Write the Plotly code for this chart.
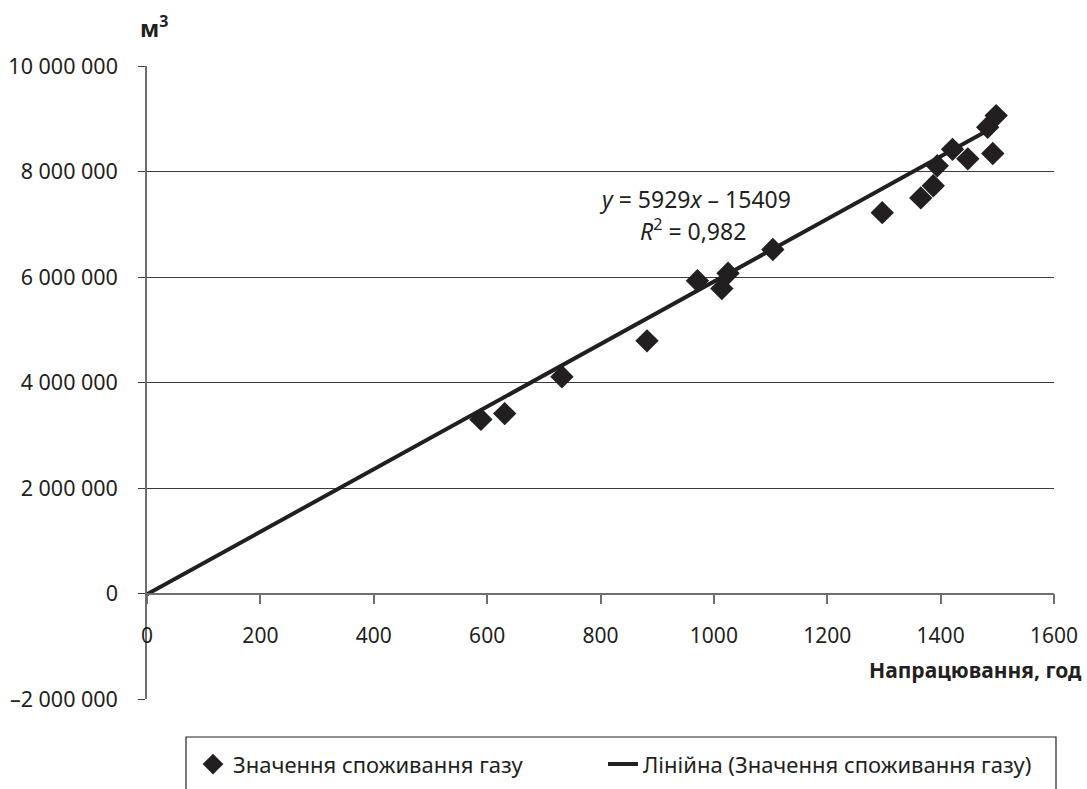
import plotly.graph_objects as go

# Operating hours vs. gas consumption
hours = [589, 631, 732, 882, 971, 1014, 1025, 1104, 1297, 1365, 1387, 1394,
         1421, 1448, 1483, 1492, 1498]
gas_m3 = [3300000, 3410000, 4110000, 4790000, 5930000, 5780000, 6070000,
          6520000, 7220000, 7500000, 7730000, 8110000, 8420000, 8240000,
          8840000, 8340000, 9060000]

# Linear trend coefficients and fit quality
slope = 5929
intercept = -15409
r_squared = "0,982"

x_ticks = [0, 200, 400, 600, 800, 1000, 1200, 1400, 1600]
y_ticks = [-2000000, 0, 2000000, 4000000, 6000000, 8000000, 10000000]
y_tick_text = ["–2 000 000", "0", "2 000 000", "4 000 000", "6 000 000",
               "8 000 000", "10 000 000"]

INK = "#231f20"
FONT = "Noto Sans"

trend_x = [0, max(hours)]
trend_y = [slope * v + intercept for v in trend_x]

fig = go.Figure()
fig.add_trace(go.Scatter(
    x=hours, y=gas_m3, mode="markers",
    name="Значення споживання газу",
    marker=dict(symbol="diamond", size=18, color=INK),
    legend="legend",
))
fig.add_trace(go.Scatter(
    x=trend_x, y=trend_y, mode="lines",
    name="Лінійна (Значення споживання газу)",
    line=dict(color=INK, width=4),
    legend="legend2",
))

y_min, y_max = -2000000, 10000000
zero_frac = (0 - y_min) / (y_max - y_min)

legend_common = dict(
    orientation="h", y=-0.07, xanchor="left", yanchor="top",
    font=dict(size=22, color=INK),
    bgcolor="rgba(0,0,0,0)", borderwidth=0,
)

fig.update_layout(
    width=1087, height=789,
    margin=dict(l=147, r=33, t=66, b=90, autoexpand=False),
    paper_bgcolor="white", plot_bgcolor="white",
    font=dict(family=FONT, size=21, color=INK),
    showlegend=True,
    legend=dict(x=(193 - 147) / 907, **legend_common),
    legend2=dict(x=(603 - 147) / 907, **legend_common),
    xaxis=dict(
        range=[0, 1600], tickvals=x_ticks, showgrid=False, zeroline=False,
        showline=True, linecolor="#6d6e70", linewidth=1.5,
        ticks="outside", ticklen=10, tickcolor="#6d6e70", tickwidth=1.5,
        anchor="free", position=zero_frac, ticklabelstandoff=14,
        tickfont=dict(size=21),
    ),
    yaxis=dict(
        range=[y_min, y_max], tickvals=y_ticks, ticktext=y_tick_text,
        showgrid=True, gridcolor="#3a3a3a", gridwidth=1.2, zeroline=False,
        showline=True, linecolor="#6d6e70", linewidth=1.5,
        ticks="outside", ticklen=7, tickcolor="#3a3a3a", tickwidth=1.2,
        ticklabelstandoff=16, tickfont=dict(size=21.5),
    ),
)

# Legend frame
fig.add_shape(type="rect", xref="paper", yref="paper",
              x0=(186 - 147) / 907, x1=(1056 - 147) / 907,
              y0=-(830 - 699) / 633, y1=-(737 - 699) / 633,
              line=dict(color=INK, width=1.2), fillcolor="rgba(0,0,0,0)")

# Axis titles
fig.add_annotation(xref="paper", yref="paper", x=(1084 - 147) / 907,
                   y=-(670 - 699) / 633, xanchor="right", yanchor="middle",
                   text="<b>Напрацювання, год</b>", showarrow=False,
                   font=dict(size=21, color=INK))
fig.add_annotation(xref="paper", yref="paper", x=(138 - 147) / 907,
                   y=1 + (66 - 27) / 633, xanchor="left", yanchor="middle",
                   text="<b>м<sup>3</sup></b>", showarrow=False,
                   font=dict(size=23, color=INK))

# Trend equation, one line per annotation
fig.add_annotation(xref="x", yref="y", x=967, y=7470000,
                   xanchor="center", yanchor="middle",
                   text=f"<i>y</i> = {slope}<i>x</i> – {abs(intercept)}",
                   showarrow=False, font=dict(size=23, color=INK))
fig.add_annotation(xref="x", yref="y", x=963, y=6890000,
                   xanchor="center", yanchor="middle",
                   text=f"<i>R</i><sup>2</sup> = {r_squared}",
                   showarrow=False, font=dict(size=23, color=INK))

fig.write_html("out.html")
